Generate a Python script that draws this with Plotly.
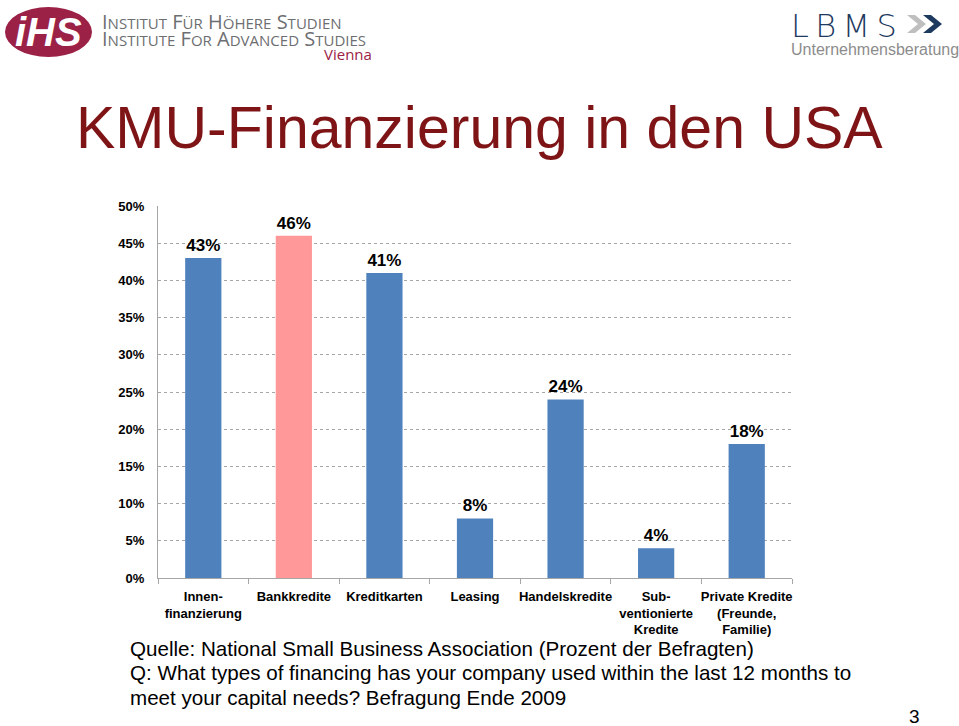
import plotly.graph_objects as go

categories = ["Innen-<br>finanzierung", "Bankkredite", "Kreditkarten", "Leasing",
              "Handelskredite", "Sub-<br>ventionierte<br>Kredite", "Private Kredite<br>(Freunde,<br>Familie)"]
values = [43, 46, 41, 8, 24, 4, 18]
labels = ["43%", "46%", "41%", "8%", "24%", "4%", "18%"]
bar_colors = ["#4F81BD", "#FF9999", "#4F81BD", "#4F81BD", "#4F81BD", "#4F81BD", "#4F81BD"]
y_ticks = [0, 5, 10, 15, 20, 25, 30, 35, 40, 45, 50]
y_ticktext = [f"<b>{v}%</b>" for v in y_ticks]

W, H = 959, 726
L, R, T, B = 158, 792, 206, 578

def px(x):
    return (x - L) / (R - L)

def py(y):
    return (B - y) / (B - T)

fig = go.Figure()
fig.add_trace(go.Bar(
    x=categories, y=values, marker_color=bar_colors, marker_line_width=0,
    text=labels, texttemplate="<b>%{text}</b>", textposition="outside", cliponaxis=False,
    textfont=dict(family="Liberation Sans, Arial", size=17, color="#000000"),
    hoverinfo="skip",
))

maroon = "#9B2146"
gray_txt = "#6D6E71"
navy = "#1F3A5F"

ann = []
# Title
ann.append(dict(text="KMU-Finanzierung in den USA", x=px(74), y=py(128), xref="paper", yref="paper",
                xanchor="left", yanchor="middle", showarrow=False,
                font=dict(family="Liberation Sans, Arial", size=59, color="#7F1416")))
# Source text
src = ["Quelle: National Small Business Association (Prozent der Befragten)",
       "Q: What types of financing has your company used within the last 12 months to",
       "meet your capital needs? Befragung Ende 2009"]
for i, s in enumerate(src):
    ann.append(dict(text=s, x=px(128), y=py(648 + i * 24.5), xref="paper", yref="paper",
                    xanchor="left", yanchor="middle", showarrow=False,
                    font=dict(family="Liberation Sans, Arial", size=20.6, color="#000000")))
# Page number
ann.append(dict(text="3", x=px(922), y=py(716), xref="paper", yref="paper",
                xanchor="right", yanchor="middle", showarrow=False,
                font=dict(family="Liberation Sans, Arial", size=19, color="#000000")))
# IHS logo text
ann.append(dict(text="<b><i>iHS</i></b>", x=px(48), y=py(32), xref="paper", yref="paper",
                xanchor="center", yanchor="middle", showarrow=False,
                font=dict(family="Liberation Sans, Arial", size=40, color="#FFFFFF")))


def small_caps(text, small=15):
    out = []
    prev = " "
    for c in text:
        if c == " ":
            out.append(" ")
        elif prev == " ":
            out.append(c)
        else:
            out.append(f"<span style='font-size:{small}px'>{c}</span>")
        prev = c
    return "".join(out)


ann.append(dict(text=small_caps("INSTITUT FÜR HÖHERE STUDIEN"), x=px(100), y=py(21), xref="paper", yref="paper",
                xanchor="left", yanchor="middle", showarrow=False,
                font=dict(family="Open Sans", size=20, color=gray_txt)))
ann.append(dict(text=small_caps("INSTITUTE FOR ADVANCED STUDIES"), x=px(100), y=py(39), xref="paper", yref="paper",
                xanchor="left", yanchor="middle", showarrow=False,
                font=dict(family="Open Sans", size=20, color=gray_txt)))
ann.append(dict(text="Vienna", x=px(374), y=py(54), xref="paper", yref="paper",
                xanchor="right", yanchor="middle", showarrow=False,
                font=dict(family="Open Sans", size=15, color=maroon)))
# LBMS logo
ann.append(dict(text="L\u2009B\u2009M\u2009S", x=px(789), y=py(26), xref="paper", yref="paper",
                xanchor="left", yanchor="middle", showarrow=False,
                font=dict(family="DejaVu Sans, Liberation Sans", size=32, color=navy, weight=300)))
ann.append(dict(text="Unternehmensberatung", x=px(789), y=py(50), xref="paper", yref="paper",
                xanchor="left", yanchor="middle", showarrow=False,
                font=dict(family="Liberation Sans", size=16, color="#8C8C8C")))

shapes = []
shapes.append(dict(type="circle", xref="paper", yref="paper",
                   x0=px(5), x1=px(92), y0=py(57), y1=py(7),
                   fillcolor=maroon, line=dict(width=0), layer="below"))


def chevron(x0, color):
    pts = [(x0, 15), (x0 + 8, 15), (x0 + 19, 24), (x0 + 8, 33), (x0, 33), (x0 + 11, 24)]
    path = "M " + " L ".join(f"{px(a)},{py(b)}" for a, b in pts) + " Z"
    return dict(type="path", xref="paper", yref="paper", path=path,
                fillcolor=color, line=dict(width=0))


shapes.append(chevron(907, "#BFBFBF"))
shapes.append(chevron(923, navy))

fig.update_layout(
    width=W, height=H,
    margin=dict(l=L, r=W - R, t=T, b=H - B, pad=0),
    paper_bgcolor="#FFFFFF", plot_bgcolor="#FFFFFF",
    bargap=0.6, showlegend=False,
    annotations=ann, shapes=shapes,
    font=dict(family="Liberation Sans, Arial", color="#000000"),
)
fig.update_xaxes(
    type="category", showgrid=False, showline=True, linecolor="#A6A6A6", linewidth=1,
    ticks="outside", tickson="boundaries", ticklen=5, tickcolor="#A6A6A6",
    tickfont=dict(family="Liberation Sans, Arial", size=13, color="#000000"),
    tickangle=0, range=[-0.5, 6.5], tickprefix="<b>", ticksuffix="</b>",
    ticklabelstandoff=6,
)
fig.update_yaxes(
    range=[0, 50], tickvals=y_ticks, ticktext=y_ticktext,
    showgrid=True, gridcolor="#A6A6A6", griddash="dot", gridwidth=1,
    showline=True, linecolor="#A6A6A6", linewidth=1, zeroline=False,
    ticks="", ticklabelstandoff=10,
    tickfont=dict(family="Liberation Sans, Arial", size=13, color="#000000"),
)

fig.write_html("out.html", config={"displayModeBar": False},
               post_script="document.body.style.margin='0';")
